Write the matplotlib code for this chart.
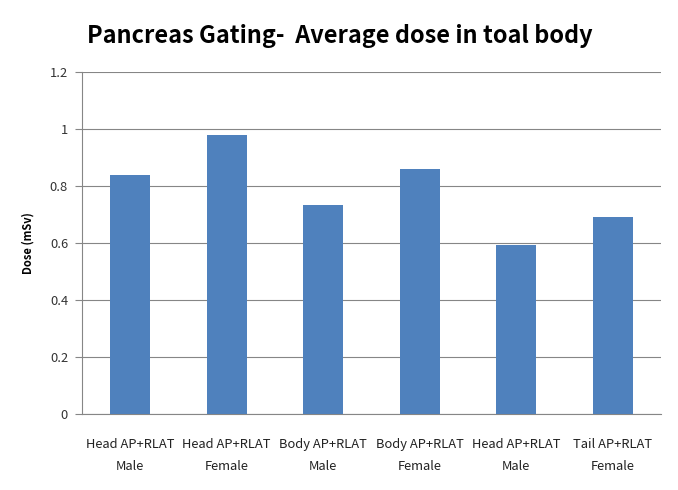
import matplotlib
matplotlib.use("Agg")
import matplotlib.pyplot as plt

categories = ["Head AP+RLAT\nMale", "Head AP+RLAT\nFemale", "Body AP+RLAT\nMale",
              "Body AP+RLAT\nFemale", "Head AP+RLAT\nMale", "Tail AP+RLAT\nFemale"]
values = [0.84, 0.98, 0.734, 0.861, 0.594, 0.692]
yticks = [0, 0.2, 0.4, 0.6, 0.8, 1, 1.2]
yticklabels = ["0", "0.2", "0.4", "0.6", "0.8", "1", "1.2"]

plt.rcParams['font.family'] = ['Noto Sans CJK KR', 'DejaVu Sans']

fig = plt.figure(figsize=(6.78, 4.9), dpi=100)
ax = fig.add_axes([82/678, 1 - 414/490, (661 - 82)/678, (414 - 72)/490])

x = list(range(len(categories)))
ax.bar(x, values, width=0.41, color="#4F81BD", zorder=3)
ax.set_xlim(-0.5, len(categories) - 0.5)
ax.set_ylim(0, 1.2)
ax.set_yticks(yticks)
ax.set_yticklabels(yticklabels, fontsize=9.3, color="#333333")
ax.set_xticks(x)
ax.set_xticklabels(categories, fontsize=9.3, color="#222222", linespacing=1.95)
ax.tick_params(axis='x', length=0, pad=17)
ax.tick_params(axis='y', length=5, color="#868686", width=0.8, pad=5)
ax.yaxis.grid(True, color="#868686", linewidth=0.8, zorder=0)
for s in ["top", "right"]:
    ax.spines[s].set_visible(False)
for s in ["left", "bottom"]:
    ax.spines[s].set_color("#868686")
    ax.spines[s].set_linewidth(0.8)

ax.set_ylabel("Dose (mSv)", fontsize=8, fontweight="bold", labelpad=11)

fig.text(87/678, 1 - 36/490, "Pancreas Gating-  Average dose in toal body",
         fontsize=16.9, fontweight="bold", ha="left", va="center")

fig.savefig("out.png", dpi=100)
